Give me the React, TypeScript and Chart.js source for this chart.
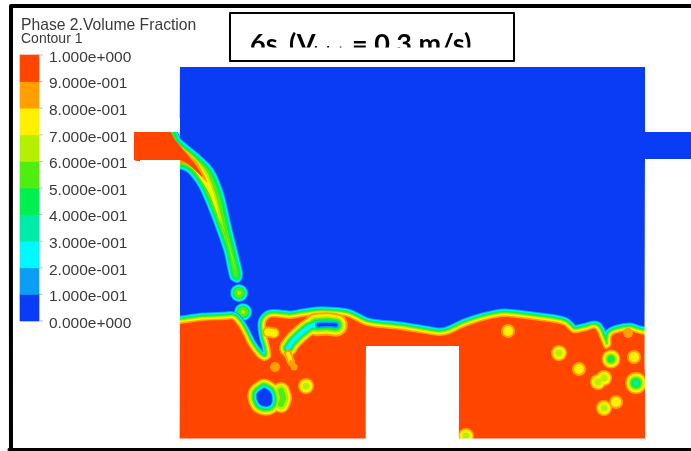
import React, { useEffect, useRef } from "react";
import { Chart, registerables } from "chart.js";

Chart.register(...registerables);

type P = [number, number];

// Colour-bar
const legendValues = [0, 0.1, 0.2, 0.3, 0.4, 0.5, 0.6, 0.7, 0.8, 0.9, 1];
const legendLabels = ["0.000e+000", "1.000e-001", "2.000e-001", "3.000e-001", "4.000e-001", "5.000e-001", "6.000e-001", "7.000e-001", "8.000e-001", "9.000e-001", "1.000e+000"];
const bandColors = ["#0a3cf5", "#0a9ff5", "#00f8ff", "#00eaa8", "#00f050", "#50ee10", "#b4f000", "#fff000", "#ffa000", "#ff4500"];
const titleText = "Phase 2.Volume Fraction";
const subtitleText = "Contour 1";
const captionParts = ["6s (V", "inlet", "= 0.3 m/s)"];

// Domain outlines
const tankOutline: P[] = [[180, 67], [645, 67], [645, 444], [180, 444], [180, 67]];
const outletOutline: P[] = [[645, 132], [691, 132], [691, 159], [645, 159], [645, 132]];
const obstacleOutline: P[] = [[366, 346], [459, 346], [459, 440], [366, 440], [366, 346]];
const maskLeft: P[] = [[140, 160], [180, 160], [180, 451], [140, 451], [140, 160]];
const maskRight: P[] = [[645, 160], [695, 160], [695, 451], [645, 451], [645, 160]];
const maskBottom: P[] = [[140, 438.5], [695, 438.5], [695, 455], [140, 455], [140, 438.5]];
const maskInletTop: P[] = [[120, 118], [180, 118], [180, 132], [120, 132], [120, 118]];
const maskInletLeft: P[] = [[120, 118], [134, 118], [134, 180], [120, 180], [120, 118]];
const captionBox: P[] = [[230, 13], [514, 13], [514, 61], [230, 61], [230, 13]];
const frameTopLeft: P[] = [[11, 451], [11, 6], [691, 6]];
const frameBottom: P[] = [[9, 449.5], [691, 449.5]];

// Free surface (lower edge of the interface band)
const surfaceLine: P[] = [
  [170, 325], [180, 324], [203, 321], [226, 320], [233, 320], [241, 331], [248, 345], [258, 358], [265, 361],
  [271, 357], [270, 346], [267, 335], [266, 323], [270, 318], [280, 318], [290, 319], [303, 317], [317, 315], [327, 315],
  [347, 317], [367, 326], [400, 330], [425, 334], [440, 336], [450, 334], [465, 327], [483, 321], [503, 317],
  [517, 318], [540, 321], [563, 325], [573, 333], [587, 331], [595, 329], [600, 339], [605, 349], [611, 346],
  [612, 336], [618, 333], [630, 331], [636, 333], [645, 335], [655, 335], [655, 444], [170, 444], [170, 325],
];

// Falling jet
const jetGreen: P[] = [
  [160, 132], [172, 132], [177, 142], [195, 157], [209, 171], [219, 194], [227, 228], [238, 273], [237, 278], [234, 276],
  [228, 249], [205, 189], [192, 170], [183, 165], [160, 160], [160, 132],
];
const jetLime: P[] = [
  [168, 132], [176, 142], [194, 157], [207, 172], [216, 196], [224, 228], [236, 272], [232, 255], [226, 235], [208, 190],
  [196, 172], [187, 165], [170, 158], [168, 132],
];
const jetYellow: P[] = [
  [168, 133], [175, 142], [192, 157], [205, 173], [214, 195], [221, 225], [226, 242], [222, 228], [210, 195], [198, 175],
  [190, 165], [175, 158], [168, 133],
];
const jetOrange: P[] = [[166, 133], [173, 139], [185, 151], [197, 163], [207, 182], [200, 175], [190, 165], [172, 159], [166, 133]];
const jetRed: P[] = [
  [134, 132], [170, 132], [175, 140], [185, 152], [195, 164], [203, 177], [195, 170], [188, 164], [180, 160], [134, 160], [134, 132],
];
const jetBalls: P[] = [[239, 293], [243, 312]];

// Air pockets inside the water
const airLoop: P[] = [[288, 348], [292, 342], [300, 334], [309, 327], [318, 324]];
const airLoopEnd: P[] = [[316, 324.5], [328, 324], [336, 325]];
const airLoopCore: P[] = [[318, 325], [328, 324.5], [336, 325]];
const airTail: P[] = [[288, 354], [291, 362]];
const airTailEnd: P[] = [[291, 362], [295, 367]];
const airSpot: P[] = [[268, 332], [274, 333]];
const bigBubbleSide: P[] = [[281, 391], [283, 398], [281, 404]];
const bigBubbleCore: P[] = [[264, 388], [270, 392], [272, 400], [270, 405], [264, 406], [259, 403], [257, 394], [264, 388]];
const ridgeSpot: P[] = [[628, 333]];

// Small droplets
const dropsTiny: P[] = [[294, 367]];
const dropsSmall: P[] = [[275, 367]];
const dropsYellow: P[] = [[508, 331], [579, 369], [634, 357], [616, 402]];
const dropsMid: P[] = [[559, 353], [306, 386], [598, 382], [604, 378], [604, 408], [466, 436]];
const dropsGreen: P[] = [[611, 359]];
const dropsLarge: P[] = [[636, 383]];

const BLUE = bandColors[0], SKY = bandColors[1], CYAN = bandColors[2], TEAL = bandColors[3], SPRING = bandColors[4];
const GREEN = bandColors[5], LIME = bandColors[6], YELLOW = bandColors[7], ORANGE = bandColors[8], RED = bandColors[9];

const waterRamp: [string, number][] = [[SKY, 17], [CYAN, 15], [TEAL, 13], [SPRING, 11.5], [GREEN, 10], [LIME, 8], [YELLOW, 6], [ORANGE, 3], [RED, 0]];
const jetRamp: [string, number][] = [[SKY, 10], [CYAN, 8], [TEAL, 6], [SPRING, 4], [GREEN, 0]];
const loopRamp: [string, number][] = [[ORANGE, 18], [YELLOW, 15], [LIME, 12], [GREEN, 9.5], [SPRING, 7.5], [TEAL, 5.5], [CYAN, 4]];
const coreRamp: [string, number][] = [[ORANGE, 19], [YELLOW, 16], [LIME, 13], [GREEN, 10.5], [SPRING, 8], [TEAL, 6], [CYAN, 4], [SKY, 2], [BLUE, 0]];
const lobeRamp: [string, number][] = [[ORANGE, 18], [YELLOW, 15], [LIME, 11], [GREEN, 6]];

const SOFT = "blur(0.6px)";

function App() {
  const ref = useRef<HTMLCanvasElement>(null);
  useEffect(() => {
    document.body.style.margin = "0";
    const ds: any[] = [];
    const shape = (data: P[], color: string, width = 0, tension = 0.001, sharp = false) =>
      ds.push({ type: "line", sharp, data, borderColor: color, backgroundColor: color, borderWidth: width, fill: "shape", tension, pointRadius: 0, borderJoinStyle: "round", borderCapStyle: "round", xAxisID: "x", yAxisID: "y" });
    const stroke = (data: P[], color: string, width: number, tension = 0.35, sharp = false) =>
      ds.push({ type: "line", sharp, data, borderColor: color, backgroundColor: color, borderWidth: width, fill: false, tension, pointRadius: 0, borderJoinStyle: "round", borderCapStyle: "round", xAxisID: "x", yAxisID: "y" });
    const dots = (data: P[], color: string, r: number) =>
      ds.push({ type: "line", data, showLine: false, pointRadius: r, pointBackgroundColor: color, pointBorderWidth: 0, xAxisID: "x", yAxisID: "y" });
    const rampShape = (data: P[], ramp: [string, number][], t = 0.35) => ramp.forEach(([c, w]) => shape(data, c, w, t));

    shape(tankOutline, BLUE, 0, 0.001, true);
    shape(outletOutline, BLUE, 0, 0.001, true);

    // jet
    rampShape(jetGreen, jetRamp, 0.25);
    shape(jetLime, LIME, 0, 0.25);
    shape(jetYellow, YELLOW, 0, 0.25);
    shape(jetOrange, ORANGE, 1, 0.2);
    shape(jetRed, RED, 0, 0.2);
    ([[SKY, 9], [CYAN, 8], [SPRING, 6.5], [GREEN, 5], [LIME, 2]] as [string, number][]).forEach(([c, r]) => dots(jetBalls, c, r));

    // water
    rampShape(surfaceLine, waterRamp, 0.3);

    // air pockets
    loopRamp.forEach(([c, w]) => {
      stroke(airLoop, c, w);
      stroke(airLoopEnd, c, w * 1.3);
    });
    stroke(airLoopCore, SKY, 6);
    stroke(airLoopCore, BLUE, 3);
    stroke(airTail, ORANGE, 8);
    stroke(airTail, YELLOW, 4);
    stroke(airTailEnd, ORANGE, 4);
    stroke(airSpot, ORANGE, 11);
    stroke(airSpot, YELLOW, 7.5);
    coreRamp.forEach(([c, w]) => {
      const lobe = lobeRamp.find(([lc]) => lc === c);
      if (lobe) stroke(bigBubbleSide, lobe[0], lobe[1]);
      shape(bigBubbleCore, c, w, 0.4);
    });
    dots(ridgeSpot, ORANGE, 5);
    dots(dropsTiny, ORANGE, 3.5);
    dots(dropsSmall, ORANGE, 5);
    ([[ORANGE, 7], [YELLOW, 5]] as [string, number][]).forEach(([c, r]) => dots(dropsYellow, c, r));
    ([[ORANGE, 8], [YELLOW, 6.5], [LIME, 3.5]] as [string, number][]).forEach(([c, r]) => dots(dropsMid, c, r));
    ([[ORANGE, 9.5], [YELLOW, 8], [LIME, 6], [GREEN, 4.5], [SPRING, 3]] as [string, number][]).forEach(([c, r]) => dots(dropsGreen, c, r));
    ([[ORANGE, 11], [YELLOW, 9.5], [LIME, 7.5], [GREEN, 6], [SPRING, 4.5], [TEAL, 3]] as [string, number][]).forEach(([c, r]) => dots(dropsLarge, c, r));

    // white surroundings
    [maskLeft, maskRight, maskBottom, maskInletTop, maskInletLeft, obstacleOutline].forEach((m) => shape(m, "#ffffff", 0, 0.001, true));
    shape(captionBox, "#ffffff", 0, 0.001, true);
    stroke(captionBox, "#000000", 2, 0.001, true);
    stroke(frameTopLeft, "#000000", 4, 0.001, true);
    stroke(frameBottom, "#000000", 3, 0.001, true);

    // colour bar
    legendValues.forEach((v) =>
      ds.push({ type: "line", data: [[39, v], [43, v]], borderColor: "#bbbbbb", borderWidth: 1, pointRadius: 0, tension: 0.001, fill: false, xAxisID: "x", yAxisID: "legendY" })
    );
    ds.push({
      type: "bar",
      data: bandColors.map((_, i) => ({ x: 29.5, y: [legendValues[i], legendValues[i + 1]] })),
      backgroundColor: bandColors,
      barThickness: 19,
      borderWidth: 0,
      xAxisID: "x",
      yAxisID: "legendY",
    });
    ds.forEach((d, i) => (d.order = ds.length - i));

    const softPlugin = {
      id: "soft",
      beforeDatasetsDraw(chart: any) {
        chart.ctx.filter = ds[0].sharp ? "none" : SOFT;
      },
      afterDatasetDraw(chart: any, args: any) {
        const next = ds[args.index + 1];
        chart.ctx.filter = next && next.sharp ? "none" : SOFT;
      },
      afterDatasetsDraw(chart: any) {
        chart.ctx.filter = "blur(0.35px)";
      },
      afterDraw(chart: any) {
        const c = chart.ctx;
        c.save();
        c.textBaseline = "alphabetic";
        c.textAlign = "left";
        c.fillStyle = "#3a3a3a";
        c.font = "15.7px 'Liberation Sans'";
        c.fillText(titleText, 21, 30);
        c.font = "14px 'Liberation Sans'";
        c.fillText(subtitleText, 21, 43);
        c.filter = "none";
        c.beginPath();
        c.rect(232, 15, 280, 32.5);
        c.clip();
        c.fillStyle = "#000000";
        c.font = "bold 27px Lato";
        c.wordSpacing = "5px";
        c.fillText(captionParts[0], 250, 53);
        c.wordSpacing = "0px";
        c.font = "bold 15px Lato";
        c.fillText(captionParts[1], 314, 57);
        c.font = "bold 27px Lato";
        c.fillText(captionParts[2], 352, 53);
        c.restore();
        c.filter = "none";
      },
    };

    const chart = new Chart(ref.current!, {
      type: "line",
      data: { datasets: ds },
      plugins: [softPlugin],
      options: {
        animation: false,
        responsive: false,
        layout: { padding: 0, autoPadding: false },
        plugins: { legend: { display: false }, tooltip: { enabled: false }, title: { display: false } },
        scales: {
          x: { type: "linear", min: 0, max: 691, display: false, offset: false },
          y: { type: "linear", min: 0, max: 451, reverse: true, display: false },
          legendY: {
            type: "linear",
            position: "left",
            min: -130 / 266,
            max: 321 / 266,
            grid: { display: false, drawTicks: false },
            border: { display: false },
            afterBuildTicks: (s: any) => {
              s.ticks = legendValues.map((value) => ({ value }));
            },
            afterFit: (s: any) => {
              s.width = 0;
              s.paddingTop = 0;
              s.paddingBottom = 0;
            },
            ticks: {
              mirror: true,
              z: 1,
              padding: 49,
              autoSkip: false,
              maxRotation: 0,
              labelOffset: 2.5,
              color: "#3a3a3a",
              font: { family: "'Liberation Sans'", size: 15.5 },
              callback: (_v: any, i: number) => legendLabels[i],
            },
          },
        },
      } as any,
    } as any);
    return () => chart.destroy();
  }, []);
  return (
    <div style={{ position: "absolute", left: 0, top: 0, width: 691, height: 451, background: "#fff" }}>
      <canvas ref={ref} width={691} height={451} style={{ display: "block" }} />
    </div>
  );
}

export default App;
